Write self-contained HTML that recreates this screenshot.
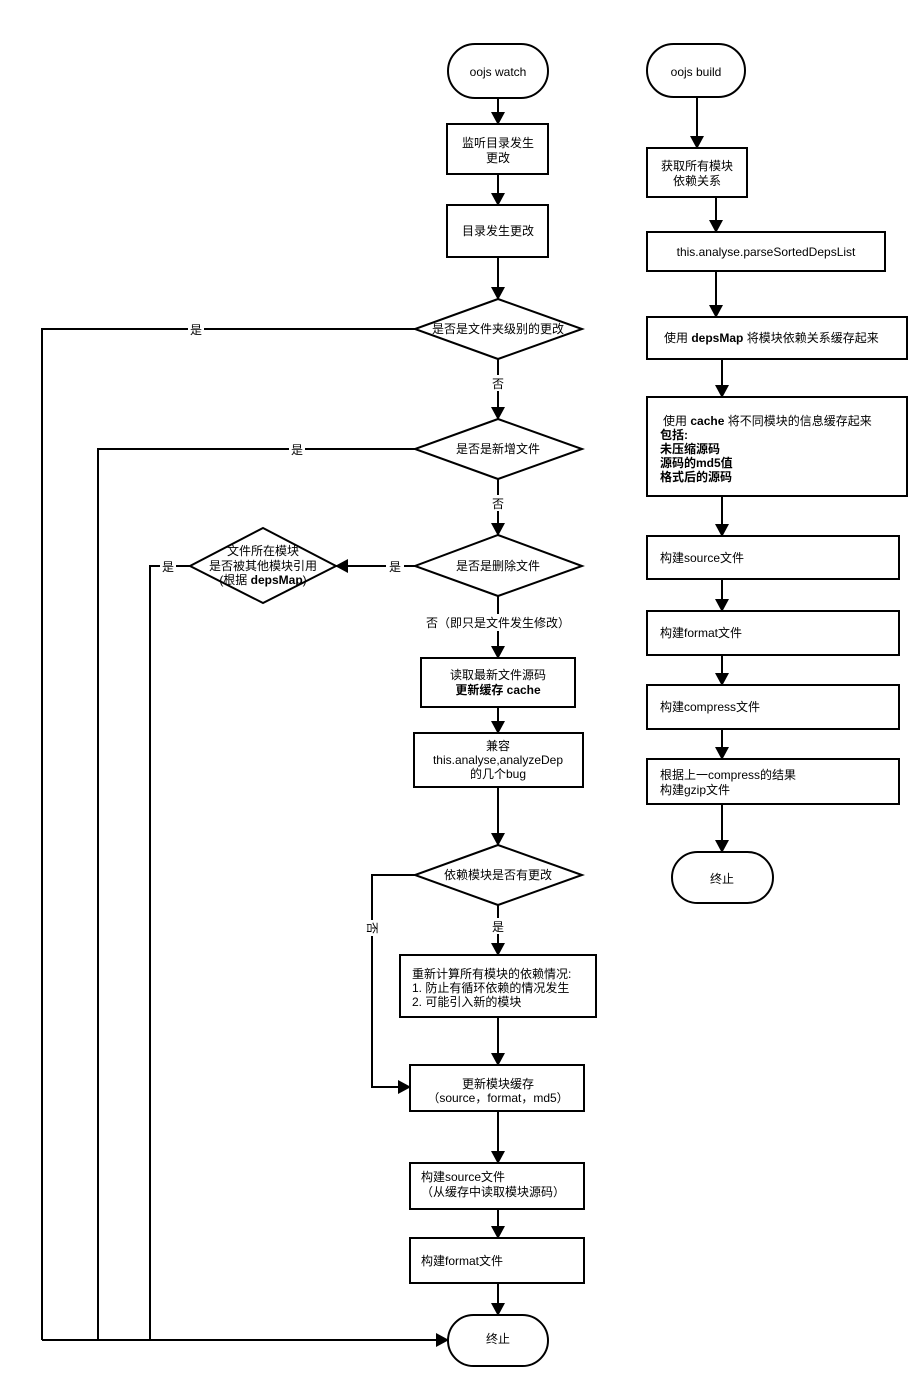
<!DOCTYPE html>
<html><head><meta charset="utf-8"><style>
html,body{margin:0;padding:0;background:#fff;}
svg{display:block;}
text{font-family:"Liberation Sans","Noto Sans CJK SC",sans-serif;font-size:12px;fill:#000;}
.b{font-weight:bold;}
</style></head><body>
<svg width="921" height="1386" viewBox="0 0 921 1386" xmlns="http://www.w3.org/2000/svg">
<defs><marker id="a" markerWidth="14" markerHeight="14" refX="12" refY="7" orient="auto" markerUnits="userSpaceOnUse"><path d="M0,0 L13,7 L0,14 z" fill="#000"/></marker></defs>
<g fill="#fff" stroke="#000" stroke-width="2">
<rect x="448" y="44" width="100" height="54" rx="27"/>
<rect x="447" y="124" width="101" height="50"/>
<rect x="447" y="205" width="101" height="52"/>
<polygon points="498,299 582,329 498,359 415,329"/>
<polygon points="498,419 582,449 498,479 415,449"/>
<polygon points="498,535 582,566 498,596 415,566"/>
<polygon points="263,528 336,566 263,603 190,566"/>
<rect x="421" y="658" width="154" height="49"/>
<rect x="414" y="733" width="169" height="54"/>
<polygon points="498,845 582,875 498,905 415,875"/>
<rect x="400" y="955" width="196" height="62"/>
<rect x="410" y="1065" width="174" height="46"/>
<rect x="410" y="1163" width="174" height="46"/>
<rect x="410" y="1238" width="174" height="45"/>
<rect x="448" y="1315" width="100" height="51" rx="25.5"/>
<rect x="647" y="44" width="98" height="53" rx="26.5"/>
<rect x="647" y="148" width="100" height="49"/>
<rect x="647" y="232" width="238" height="39"/>
<rect x="647" y="317" width="260" height="42"/>
<rect x="647" y="397" width="260" height="99"/>
<rect x="647" y="536" width="252" height="43"/>
<rect x="647" y="611" width="252" height="44"/>
<rect x="647" y="685" width="252" height="44"/>
<rect x="647" y="759" width="252" height="45"/>
<rect x="672" y="852" width="101" height="51" rx="25.5"/>
</g>
<g fill="none" stroke="#000" stroke-width="2" marker-end="url(#a)">
<path d="M498,98 V124"/>
<path d="M498,174 V205"/>
<path d="M498,257 V299"/>
<path d="M498,359 V419"/>
<path d="M498,479 V535"/>
<path d="M415,566 H336"/>
<path d="M498,596 V658"/>
<path d="M498,707 V733"/>
<path d="M498,787 V845"/>
<path d="M498,905 V955"/>
<path d="M498,1017 V1065"/>
<path d="M415,875 H372 V1087 H410"/>
<path d="M498,1111 V1163"/>
<path d="M498,1209 V1238"/>
<path d="M498,1283 V1315"/>
<path d="M42,1340 H448"/>
<path d="M697,97 V148"/>
<path d="M716,197 V232"/>
<path d="M716,271 V317"/>
<path d="M722,359 V397"/>
<path d="M722,496 V536"/>
<path d="M722,579 V611"/>
<path d="M722,655 V685"/>
<path d="M722,729 V759"/>
<path d="M722,804 V852"/>
</g>
<g fill="none" stroke="#000" stroke-width="2">
<path d="M415,329 H42 V1340"/>
<path d="M415,449 H98 V1340"/>
<path d="M190,566 H150 V1340"/>
</g>
<g fill="#fff">
<rect x="188" y="321" width="16" height="16"/>
<rect x="289" y="441" width="16" height="16"/>
<rect x="160" y="558" width="16" height="16"/>
<rect x="386" y="558" width="18" height="16"/>
<rect x="490" y="375" width="16" height="16"/>
<rect x="490" y="495" width="16" height="16"/>
<rect x="424" y="614" width="148" height="17"/>
<rect x="490" y="918" width="16" height="16"/>
<rect x="364" y="920" width="16" height="16"/>
</g>
<g text-anchor="middle">
<text x="498" y="76" font-size="13">oojs watch</text>
<text x="498" y="147">监听目录发生</text><text x="498" y="162">更改</text>
<text x="498" y="235">目录发生更改</text>
<text x="498" y="333">是否是文件夹级别的更改</text>
<text x="498" y="453">是否是新增文件</text>
<text x="498" y="570">是否是删除文件</text>
<text x="263" y="555">文件所在模块</text>
<text x="263" y="570">是否被其他模块引用</text>
<text x="263" y="584">(根据 <tspan class="b">depsMap</tspan>)</text>
<text x="196" y="334">是</text>
<text x="297" y="454">是</text>
<text x="168" y="571">是</text>
<text x="395" y="571">是</text>
<text x="498" y="388">否</text>
<text x="498" y="508">否</text>
<text x="498" y="627">否（即只是文件发生修改）</text>
<text x="498" y="679">读取最新文件源码</text>
<text x="498" y="694" class="b">更新缓存 cache</text>
<text x="498" y="750">兼容</text>
<text x="498" y="764">this.analyse,analyzeDep</text>
<text x="498" y="778">的几个bug</text>
<text x="498" y="879">依赖模块是否有更改</text>
<text x="498" y="931">是</text>
<text x="498" y="1088">更新模块缓存</text>
<text x="498" y="1102">（source，format，md5）</text>
<text x="498" y="1343">终止</text>
<text x="696" y="76" font-size="13">oojs build</text>
<text x="697" y="170">获取所有模块</text>
<text x="697" y="185">依赖关系</text>
<text x="766" y="256">this.analyse.parseSortedDepsList</text>
<text x="722" y="883">终止</text>
</g>
<text x="372" y="928" transform="rotate(90 372 928)" text-anchor="middle" dominant-baseline="central">否</text>
<g>
<text x="412" y="978">重新计算所有模块的依赖情况:</text>
<text x="412" y="992">1. 防止有循环依赖的情况发生</text>
<text x="412" y="1006">2. 可能引入新的模块</text>
<text x="421" y="1181">构建source文件</text>
<text x="421" y="1196"> （从缓存中读取模块源码）</text>
<text x="421" y="1265">构建format文件</text>
<text x="664" y="342">使用 <tspan class="b">depsMap</tspan> 将模块依赖关系缓存起来</text>
<text x="663" y="425">使用 <tspan class="b">cache</tspan> 将不同模块的信息缓存起来</text>
<text x="660" y="439" class="b">包括:</text>
<text x="660" y="453" class="b">未压缩源码</text>
<text x="660" y="467" class="b">源码的md5值</text>
<text x="660" y="481" class="b">格式后的源码</text>
<text x="660" y="562">构建source文件</text>
<text x="660" y="637">构建format文件</text>
<text x="660" y="711">构建compress文件</text>
<text x="660" y="779">根据上一compress的结果</text>
<text x="660" y="794">构建gzip文件</text>
</g>
</svg>
</body></html>
